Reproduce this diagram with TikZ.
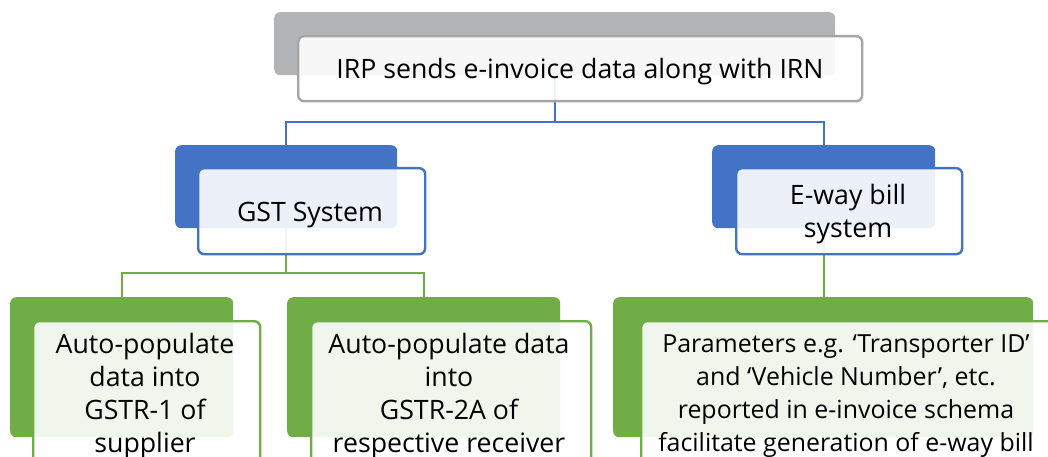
\documentclass[tikz,border=0pt]{standalone}
\usepackage{fontspec}
\setmainfont{Open Sans}
\definecolor{cblue}{HTML}{4472C4}
\definecolor{cgreen}{HTML}{70AD47}
\definecolor{cgray}{HTML}{B3B4B6}
\definecolor{cgrayline}{HTML}{A5A5A5}
\begin{document}
\begin{tikzpicture}[x=1pt,y=-1pt,
  back/.style={rounded corners=6pt, inner sep=0pt, anchor=north west},
  front/.style={rounded corners=6pt, inner sep=0pt, anchor=north west, line width=2.4pt, fill=white, fill opacity=0.9, text opacity=1, align=center},
  conn/.style={line width=2.4pt},
  every node/.style={font=\fontsize{26.7}{33}\selectfont}
]
\useasboundingbox (0,0) rectangle (1048,457);
\clip (0,0) rectangle (1048,457);
% back boxes
\node[back, fill=cgray, minimum width=561pt, minimum height=63pt] (tb) at (274,12) {};
\node[back, fill=cblue, minimum width=222pt, minimum height=83pt] (gb) at (175,145) {};
\node[back, fill=cblue, minimum width=223pt, minimum height=83pt] (eb) at (712,145) {};
\node[back, fill=cgreen, minimum width=223pt, minimum height=140pt] (l1b) at (10,297) {};
\node[back, fill=cgreen, minimum width=273pt, minimum height=140pt] (l2b) at (287,297) {};
\node[back, fill=cgreen, minimum width=420pt, minimum height=140pt] (l3b) at (613,297) {};
% connectors
\draw[conn, cblue] (tb.south) -- (tb.south |- 0,122) coordinate (tj) -| (gb.north);
\draw[conn, cblue] (tj) -| (eb.north);
\draw[conn, cgreen] (gb.south) -- (gb.south |- 0,273) coordinate (gj) -| (l1b.north);
\draw[conn, cgreen] (gj) -| (l2b.north);
\draw[conn, cgreen] (eb.south) -- (l3b.north -| eb.south);
% front boxes
\node[front, draw=cgrayline, minimum width=564pt, minimum height=65pt] (tf) at (297,35) {};
\node[front, draw=cblue, minimum width=227pt, minimum height=86pt] (gf) at (197,167) {};
\node[front, draw=cblue, minimum width=226pt, minimum height=86pt] (ef) at (735,167) {};
\node[front, draw=cgreen, minimum width=227pt, minimum height=150pt] (l1f) at (32,320) {};
\node[front, draw=cgreen, minimum width=280pt, minimum height=150pt] (l2f) at (310,320) {};
\node[front, draw=cgreen, minimum width=420pt, minimum height=150pt] (l3f) at (640,320) {};
% texts
\node (tt) at (580,72) {IRP sends e-invoice data along with IRN};
\node (gt) at (310,215) {GST System};
\node[align=center] (et) at (848,214) {E-way bill\\system};
\node[align=center] (l1t) at (145,396) {Auto-populate\\data into\\GSTR-1 of\\supplier};
\node[align=center] (l2t) at (449,396) {Auto-populate data\\into\\GSTR-2A of\\respective receiver};
\node[align=center, font=\fontsize{24.9}{33}\selectfont] (l3t) at (846,396) {Parameters e.g. ‘Transporter ID’\\and ‘Vehicle Number’, etc.\\reported in e-invoice schema\\facilitate generation of e-way bill};
\end{tikzpicture}
\end{document}
